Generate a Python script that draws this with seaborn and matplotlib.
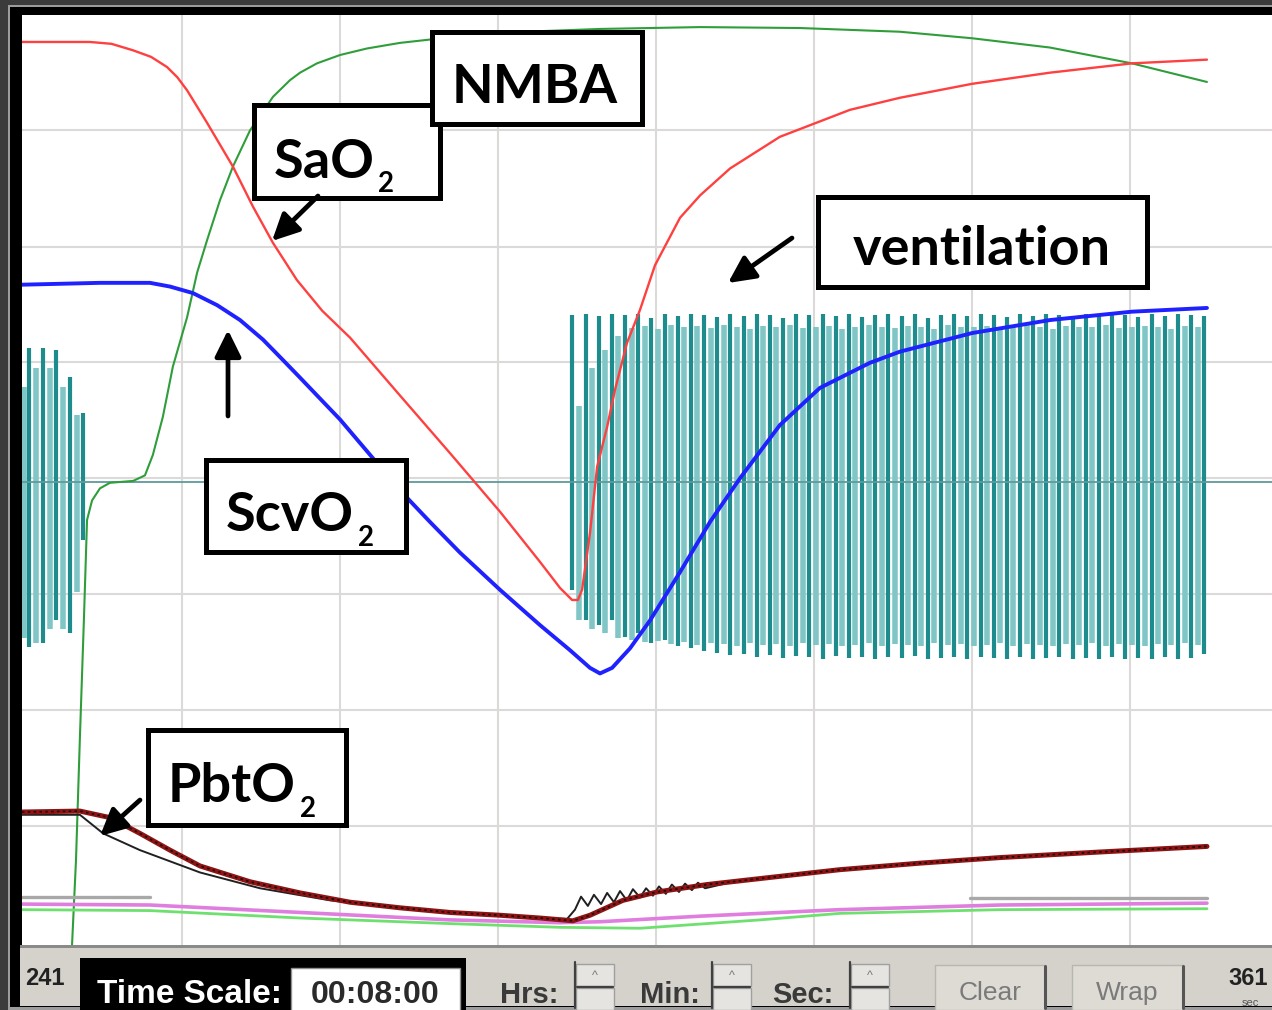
import numpy as np
import pandas as pd
import matplotlib
matplotlib.use("Agg")
import matplotlib.pyplot as plt
import seaborn as sns
from matplotlib.patches import Rectangle

sns.set_style("white")
plt.rcParams['font.family'] = ['Lato', 'DejaVu Sans']

# ---------------- data (time in s, value in % of screen height) ----------------
sao2_t = [0.0, 25.8, 34.0, 42.2, 49.0, 55.1, 59.0, 62.7, 70.3, 80.1, 87.7, 95.3, 104.4, 114.0,
          124.6, 143.5, 162.5, 181.5, 196.7, 204.3, 208.9, 211.1, 212.7, 215.7, 218.4, 222.2,
          225.2, 229.7, 234.7, 240.4, 249.9, 257.5, 268.9, 287.8, 314.4, 333.4, 360.8, 390.4,
          421.5, 450.0]
sao2_y = [97.1, 97.1, 96.9, 96.2, 95.5, 94.4, 93.3, 91.9, 88.4, 83.7, 79.4, 75.5, 71.5, 68.2,
          65.3, 59.1, 52.9, 46.6, 41.2, 38.4, 37.1, 37.1, 38.2, 44.3, 51.4, 55.7,
          59.7, 64.7, 68.3, 73.1, 78.2, 80.6, 83.5, 86.9, 89.8, 91.1, 92.6, 93.8,
          94.8, 95.2]

nmba_t = [19.0, 20.5, 22.0, 23.5, 24.7, 26.6, 29.6, 33.4, 42.2, 46.7, 49.7, 53.5, 57.3, 62.7,
          66.5, 70.3, 75.2, 80.1, 86.6, 95.3, 101.8, 105.6, 112.0, 120.8, 131.0, 143.5, 162.5,
          181.5, 219.5, 257.5, 295.4, 333.4, 360.8, 390.4, 421.5, 450.0]
nmba_y = [0.0, 9.1, 22.4, 34.9, 45.7, 47.8, 49.1, 49.7, 49.9, 50.5, 52.7, 56.8, 62.2, 67.5,
          72.3, 75.8, 80.1, 83.7, 87.6, 91.2, 93.0, 93.8, 94.8, 95.7, 96.4, 97.0, 97.6,
          98.1, 98.5, 98.7, 98.6, 98.2, 97.5, 96.5, 94.8, 92.8]

scvo2_t = [0.0, 29.6, 48.6, 56.2, 64.9, 74.1, 82.8, 91.5, 99.1, 105.6, 120.8, 132.2, 143.5,
           154.9, 166.3, 181.5, 196.7, 208.1, 215.7, 219.5, 224.1, 230.9, 238.5, 249.9,
           261.3, 272.7, 287.8, 303.0, 322.0, 333.4, 360.8, 390.4, 421.5, 450.0]
scvo2_y = [71.0, 71.2, 71.2, 70.8, 70.1, 68.8, 67.2, 65.1, 62.9, 61.0, 56.5, 52.7, 48.9,
           45.5, 42.2, 38.2, 34.4, 31.7, 29.8, 29.2, 29.8, 31.9, 34.9, 40.1,
           45.5, 50.2, 55.9, 59.9, 62.6, 63.8, 65.8, 67.2, 68.1, 68.5]

# ventilation: early manual breaths and mechanical ventilation (every 5 s)
vent_left_t = [2.7, 8.0, 12.9, 18.2, 23.2]
vent_left_top = [64.2, 64.2, 64.0, 61.1, 57.2]
vent_left_bottom = [32.0, 32.5, 34.9, 33.5, 43.5]
vent_left_light_t = [0.6, 5.3, 10.5, 15.6, 20.7]
vent_left_light_top = [60.0, 62.0, 62.0, 60.0, 57.0]
vent_left_light_bottom = [33.0, 32.5, 34.0, 34.0, 38.0]

vent_t = [209, 214, 219, 224, 229, 234, 239, 244, 249, 254,
          259, 264, 269, 274, 279, 284, 289, 294, 299, 304,
          309, 314, 319, 324, 329, 334, 339, 344, 349, 354,
          359, 364, 369, 374, 379, 384, 389, 394, 399, 404,
          409, 414, 419, 424, 429, 434, 439, 444, 449]
vent_top = [67.7, 67.9, 67.6, 67.8, 67.7, 67.9, 67.4, 67.8, 67.6, 67.9,
            67.7, 67.5, 67.8, 67.6, 67.9, 67.7, 67.4, 67.8, 67.7, 67.9,
            67.6, 67.8, 67.5, 67.7, 67.9, 67.6, 67.8, 67.4, 67.7, 67.9,
            67.6, 67.8, 67.7, 67.5, 67.9, 67.6, 67.8, 67.7, 67.4, 67.8,
            67.6, 67.9, 67.7, 67.5, 67.8, 67.6, 67.9, 67.7, 67.6]
vent_bottom = [38.2, 34.9, 34.4, 34.9, 33.1, 33.5, 32.5, 32.8, 32.2, 31.9,
               31.6, 31.4, 31.2, 31.3, 31.0, 31.2, 30.9, 31.1, 31.0, 30.8,
               31.1, 30.9, 31.0, 30.8, 31.0, 30.9, 31.1, 30.8, 30.9, 31.0,
               30.8, 31.0, 30.9, 30.7, 31.0, 30.8, 30.9, 31.0, 30.7, 30.9,
               30.8, 31.0, 30.7, 30.9, 30.8, 31.0, 30.7, 30.9, 31.3]
vent_light_t = [211.5, 216.5, 221.5, 226.5, 231.5, 236.5, 241.5, 246.5, 251.5, 256.5,
                261.5, 266.5, 271.5, 276.5, 281.5, 286.5, 291.5, 296.5, 301.5, 306.5,
                311.5, 316.5, 321.5, 326.5, 331.5, 336.5, 341.5, 346.5, 351.5, 356.5,
                361.5, 366.5, 371.5, 376.5, 381.5, 386.5, 391.5, 396.5, 401.5, 406.5,
                411.5, 416.5, 421.5, 426.5, 431.5, 436.5, 441.5, 446.5]
vent_light_top = [58.0, 62.0, 64.0, 65.5, 66.3, 66.6, 66.2, 66.7, 66.4, 66.6,
                  66.3, 66.7, 66.5, 66.2, 66.6, 66.4, 66.7, 66.3, 66.5, 66.6,
                  66.2, 66.5, 66.7, 66.4, 66.3, 66.6, 66.5, 66.2, 66.7, 66.4,
                  66.5, 66.6, 66.3, 66.4, 66.7, 66.5, 66.2, 66.6, 66.4, 66.5,
                  66.7, 66.3, 66.4, 66.6, 66.5, 66.2, 66.6, 66.4]
vent_light_bottom = [35.0, 34.0, 33.5, 33.0, 32.8, 32.6, 32.7, 32.4, 32.6, 32.3,
                     32.5, 32.4, 32.2, 32.5, 32.3, 32.4, 32.2, 32.5, 32.3, 32.4,
                     32.2, 32.3, 32.5, 32.2, 32.4, 32.3, 32.2, 32.5, 32.3, 32.4,
                     32.2, 32.3, 32.5, 32.2, 32.4, 32.3, 32.2, 32.4, 32.3, 32.5,
                     32.2, 32.4, 32.3, 32.2, 32.4, 32.3, 32.5, 32.3]
vent_base_t = [0.0, 474.7]
vent_base_y = [49.8, 49.8]

# PbtO2 and other bottom traces
pbto2_t = [0.0, 22.0, 33.4, 44.8, 56.2, 67.6, 86.6, 105.6, 124.6, 143.5, 162.5, 181.5,
           196.7, 209.2, 215.7, 228.2, 241.1, 260.1, 285.2, 310.6, 341.0, 371.4, 409.4, 450.0]
pbto2_y = [14.3, 14.4, 13.7, 12.0, 10.2, 8.5, 6.8, 5.6, 4.6, 4.0, 3.5, 3.2,
           2.9, 2.6, 3.2, 4.8, 5.7, 6.5, 7.3, 8.1, 8.8, 9.4, 10.0, 10.6]
pbto2b_t = [0.0, 22.0, 30.8, 44.8, 67.6, 90.4, 117.0, 143.5, 162.5, 181.5, 196.7, 207.0,
            210.0, 212.3, 214.9, 217.2, 219.9, 222.2, 224.8, 227.1, 229.7, 232.0, 234.7,
            237.0, 239.6, 241.9, 244.5, 246.8, 249.5, 251.8, 254.4, 256.7, 259.4, 270.0]
pbto2b_y = [14.0, 14.0, 12.0, 10.2, 7.8, 6.1, 4.8, 4.0, 3.5, 3.2, 2.9, 2.8,
            3.8, 5.2, 4.2, 5.4, 4.4, 5.6, 4.6, 5.8, 4.8, 6.0, 5.1,
            6.1, 5.3, 6.3, 5.5, 6.5, 5.7, 6.6, 5.9, 6.7, 6.1, 6.8]
gray_t = [0.0, 48.6, 360.0, 450.0]
gray_y = [5.2, 5.2, 5.1, 5.1]
gray_seg = [0, 0, 1, 1]
pink_t = [0.0, 48.6, 105.6, 162.5, 204.3, 219.5, 257.5, 310.6, 371.4, 450.0]
pink_y = [4.4, 4.3, 3.5, 2.7, 2.4, 2.5, 3.1, 3.8, 4.3, 4.5]
lgreen_t = [0.0, 48.6, 105.6, 162.5, 204.3, 234.7, 280.3, 310.6, 371.4, 450.0]
lgreen_y = [3.8, 3.7, 2.9, 2.3, 1.9, 1.8, 2.7, 3.4, 3.8, 3.9]

grid_x = [60.8, 120.8, 180.8, 240.8, 300.8, 360.8, 420.8]
grid_y = [12.8, 25.3, 37.7, 50.2, 62.7, 75.05, 87.6]

# ---------------- figure ----------------
W, H = 1272, 1010
fig = plt.figure(figsize=(W / 100, H / 100), dpi=100, facecolor='#3b3b3b')

bg = fig.add_axes([0, 0, 1, 1])
bg.set_xlim(0, W); bg.set_ylim(H, 0); bg.axis('off')
bg.add_patch(Rectangle((8, 5), W, H, facecolor='#9c9c9c', edgecolor='none'))
bg.add_patch(Rectangle((10, 7), W, H - 10, facecolor='black', edgecolor='none'))
# toolbar
bg.add_patch(Rectangle((20, 946), W - 20, 60, facecolor='#d5d2cc', edgecolor='none'))
bg.add_patch(Rectangle((20, 945), W - 20, 3, facecolor='#8a8a8a', edgecolor='none'))

ax = fig.add_axes([22 / W, (H - 945) / H, (W - 22) / W, (945 - 15) / H])
ax.set_facecolor('white')
ax.set_xlim(0, 474.7)
ax.set_ylim(0, 100)
ax.set_xticks(grid_x); ax.set_yticks(grid_y)
ax.grid(True, color='#dcdad8', lw=1.5)
ax.tick_params(length=0, labelbottom=False, labelleft=False)
for s in ax.spines.values():
    s.set_visible(False)


def line(t, y, color, lw, z, **kw):
    df = pd.DataFrame({'t': t, 'y': y})
    sns.lineplot(data=df, x='t', y='y', ax=ax, color=color, linewidth=lw, zorder=z,
                 estimator=None, sort=False, **kw)


def bars(ts, tops, bottoms, color, lw, z):
    rows = []
    for i, (t, a, b) in enumerate(zip(ts, tops, bottoms)):
        rows.append((t, a, i)); rows.append((t, b, i))
    df = pd.DataFrame(rows, columns=['t', 'y', 'u'])
    sns.lineplot(data=df, x='t', y='y', units='u', estimator=None, sort=False, ax=ax,
                 color=color, linewidth=lw, zorder=z, solid_capstyle='butt')


bars(vent_left_light_t, vent_left_light_top, vent_left_light_bottom, '#80c6c6', 4.0, 2)
bars(vent_light_t, vent_light_top, vent_light_bottom, '#80c6c6', 4.0, 2)
bars(vent_left_t, vent_left_top, vent_left_bottom, '#1e8c8c', 3.0, 3)
bars(vent_t, vent_top, vent_bottom, '#1e8c8c', 3.0, 3)
line(vent_base_t, vent_base_y, '#5e9a9c', 1.3, 4)

line(nmba_t, nmba_y, '#2f9e3a', 1.5, 5)
line(sao2_t, sao2_y, '#ff4040', 1.7, 6)
line(scvo2_t, scvo2_y, '#1f22ff', 2.8, 7)

dfg = pd.DataFrame({'t': gray_t, 'y': gray_y, 'u': gray_seg})
sns.lineplot(data=dfg, x='t', y='y', units='u', estimator=None, sort=False, ax=ax,
             color='#a8a8a8', linewidth=2.4, zorder=5)
line(lgreen_t, lgreen_y, '#6fe06f', 2.0, 5)
line(pink_t, pink_y, '#e07ee0', 2.6, 6)
line(pbto2b_t, pbto2b_y, '#202020', 1.4, 7)
line(pbto2_t, pbto2_y, '#8e1414', 3.6, 8)
line(pbto2_t, pbto2_y, '#1a0a0a', 1.2, 9, dashes=(1.5, 2.0))
ax.set_xlabel(''); ax.set_ylabel('')

# ---------------- overlay: annotations ----------------
ov = fig.add_axes([0, 0, 1, 1])
ov.set_facecolor('none')
ov.set_xlim(0, W); ov.set_ylim(H, 0); ov.axis('off')


def box(x0, y0, x1, y1):
    ov.add_patch(Rectangle((x0, y0), x1 - x0, y1 - y0, facecolor='white',
                           edgecolor='black', lw=3.6, zorder=10))


def arrow(tail, head):
    ov.annotate('', xy=head, xytext=tail,
                arrowprops=dict(arrowstyle='-|>,head_length=0.85,head_width=0.42',
                                lw=3.4, color='black', mutation_scale=19,
                                shrinkA=0, shrinkB=0), zorder=12)


lab = dict(fontsize=39, fontweight='bold', color='black', va='baseline', zorder=11)
sub = dict(fontsize=20, fontweight='bold', color='black', va='baseline', zorder=11)

box(254, 105, 440, 198)
ov.text(274, 178, 'SaO', ha='left', **lab)
ov.text(378, 192, '2', ha='left', **sub)
box(432, 32, 642, 124)
ov.text(535, 103, 'NMBA', ha='center', **lab)
box(818, 197, 1147, 287)
ov.text(982, 265, 'ventilation', ha='center', **lab)
box(206, 460, 406, 552)
ov.text(226, 531, 'ScvO', ha='left', **lab)
ov.text(358, 546, '2', ha='left', **sub)
box(148, 730, 346, 825)
ov.text(168, 802, 'PbtO', ha='left', **lab)
ov.text(300, 817, '2', ha='left', **sub)

arrow((318, 196), (272, 241))
arrow((228, 416), (228, 330))
arrow((792, 238), (728, 283))
arrow((140, 800), (100, 836))

# ---------------- toolbar widgets ----------------
tbfont = ['Liberation Sans Narrow', 'Liberation Sans', 'DejaVu Sans']
ov.text(25, 985, '241', fontsize=17, fontweight='bold', family=tbfont, color='#222222')
ov.add_patch(Rectangle((80, 958), 386, 55, facecolor='black', edgecolor='none'))
ov.text(97, 1003, 'Time Scale:', fontsize=24, fontweight='bold', family=tbfont,
        color='white', va='baseline')
ov.add_patch(Rectangle((291, 968), 169, 45, facecolor='white', edgecolor='#909090', lw=1))
ov.text(375, 1003, '00:08:00', fontsize=23, fontweight='bold', family=tbfont,
        color='#2a2a2a', ha='center', va='baseline')

for label, lx, sx in [('Hrs:', 500, 576), ('Min:', 640, 713), ('Sec:', 772, 851)]:
    ov.text(lx, 1003, label, fontsize=21, fontweight='bold', family=tbfont,
            color='#3a3a3a', va='baseline')
    ov.add_patch(Rectangle((sx, 964), 38, 22, facecolor='#e6e4e0', edgecolor='#a0a0a0', lw=1))
    ov.add_patch(Rectangle((sx, 988), 38, 22, facecolor='#e6e4e0', edgecolor='#a0a0a0', lw=1))
    ov.plot([sx - 1, sx - 1], [962, 1008], color='#404040', lw=1.6)
    ov.plot([sx + 1, sx + 37], [987, 987], color='#404040', lw=1.6)
    ov.text(sx + 19, 976, '^', fontsize=9, family=tbfont, color='#777777',
            ha='center', va='center')

for label, bx0, bx1 in [('Clear', 935, 1045), ('Wrap', 1072, 1183)]:
    ov.add_patch(Rectangle((bx0, 965), bx1 - bx0, 45, facecolor='#dedbd5',
                           edgecolor='#b8b6b0', lw=1))
    ov.plot([bx1, bx1], [966, 1008], color='#555555', lw=2.2)
    ov.text((bx0 + bx1) / 2, 993, label, fontsize=19, family=tbfont, color='#7a7a7a',
            ha='center', va='center')

ov.text(1228, 985, '361', fontsize=17, fontweight='bold', family=tbfont, color='#222222')
ov.text(1242, 1008, 'sec', fontsize=8, family=tbfont, color='#555555', va='bottom')

fig.savefig('out.png', dpi=100, facecolor=fig.get_facecolor())
